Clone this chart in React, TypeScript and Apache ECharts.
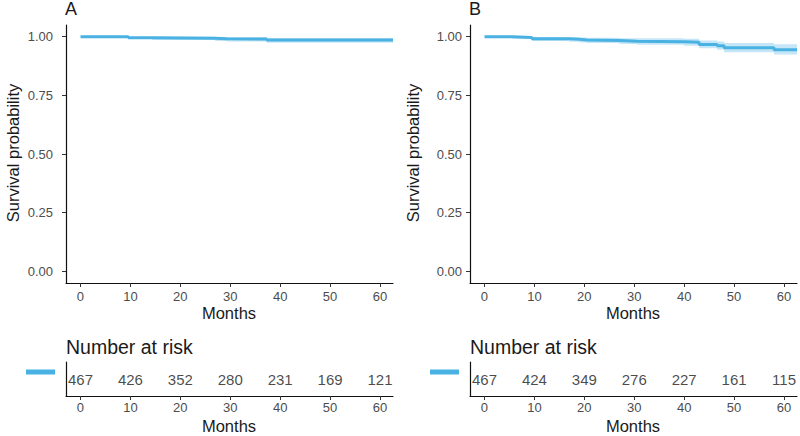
import React, { useEffect, useRef } from "react";
import * as echarts from "echarts";

// Panel A Kaplan-Meier estimate (months, survival, 95% CI)
const timesA = [0, 9.6, 14.4, 27, 29.3, 37.3, 62.6];
const survA = [1, 0.996, 0.994, 0.991, 0.99, 0.986, 0.986];
const lowerA = [1, 0.99, 0.986, 0.982, 0.98, 0.974, 0.974];
const upperA = [1, 1, 1, 0.999, 0.998, 0.995, 0.995];

// Panel B Kaplan-Meier estimate
const timesB = [0, 5.6, 9.5, 17, 19, 20.5, 27, 30.5, 40, 43, 46.6, 48, 58, 62.6];
const survB = [1, 0.997, 0.991, 0.989, 0.986, 0.984, 0.981, 0.979, 0.976, 0.967, 0.962, 0.953, 0.945, 0.945];
const lowerB = [1, 0.991, 0.982, 0.979, 0.975, 0.973, 0.969, 0.966, 0.962, 0.951, 0.945, 0.934, 0.924, 0.924];
const upperB = [1, 1, 0.999, 0.998, 0.997, 0.996, 0.994, 0.993, 0.991, 0.984, 0.98, 0.973, 0.968, 0.968];

// Number at risk
const riskTimes = [0, 10, 20, 30, 40, 50, 60];
const riskA = [467, 426, 352, 280, 231, 169, 121];
const riskB = [467, 424, 349, 276, 227, 161, 115];

const xTicks = [0, 10, 20, 30, 40, 50, 60];
const yTicks = [0, 0.25, 0.5, 0.75, 1];

const FONT = "'Liberation Sans', Arial, sans-serif";
const BLUE = "#4AB2E2";
const XMIN = -2.9;
const XMAX = 62.6;

export default function App() {
  const ref = useRef<HTMLDivElement>(null);

  useEffect(() => {
    if (!ref.current) return;
    const chart = echarts.init(ref.current, null, { renderer: "svg" });

    const grids = [
      { left: 66, top: 25, width: 327, height: 258 },
      { left: 470, top: 25, width: 327, height: 258 },
      { left: 66, top: 362, width: 327, height: 34 },
      { left: 470, top: 362, width: 327, height: 34 },
    ];

    const xAxisBase = (gi: number, labelMargin: number) => ({
      type: "value",
      gridIndex: gi,
      min: XMIN,
      max: XMAX,
      splitLine: { show: false },
      axisLine: { show: true, onZero: false, lineStyle: { color: "#111", width: 1.2 } },
      axisTick: { show: true, length: 4, customValues: xTicks, lineStyle: { color: "#333" } },
      axisLabel: {
        customValues: xTicks,
        margin: labelMargin,
        fontSize: 13,
        color: "#4D4D4D",
        fontFamily: FONT,
      },
    });

    const yMain = (gi: number, margin: number) => ({
      type: "value",
      gridIndex: gi,
      min: -0.05,
      max: 1.05,
      splitLine: { show: false },
      axisLine: { show: true, onZero: false, lineStyle: { color: "#111", width: 1.2 } },
      axisTick: { show: true, length: 4, customValues: yTicks, lineStyle: { color: "#333" } },
      axisLabel: {
        customValues: yTicks,
        margin,
        fontSize: 13,
        color: "#4D4D4D",
        fontFamily: FONT,
        formatter: (v: number) => v.toFixed(2),
      },
    });

    const yRisk = (gi: number) => ({
      type: "value",
      gridIndex: gi,
      min: 0,
      max: 1,
      splitLine: { show: false },
      axisLine: { show: true, onZero: false, lineStyle: { color: "#111", width: 1.2 } },
      axisTick: { show: false },
      axisLabel: { show: false },
    });

    const kmSeries = (
      idx: number,
      times: number[],
      surv: number[],
      lower: number[],
      upper: number[]
    ) => [
      {
        type: "custom",
        xAxisIndex: idx,
        yAxisIndex: idx,
        silent: true,
        clip: true,
        data: times.map((t, i) => [t, lower[i], upper[i]]),
        encode: { x: 0, y: [1, 2] },
        renderItem: (params: any, api: any) => {
          if (params.dataIndex !== 0) return null;
          const top: number[][] = [];
          const bottom: number[][] = [];
          for (let i = 0; i < times.length; i++) {
            const tNext = i < times.length - 1 ? times[i + 1] : times[i];
            top.push(api.coord([times[i], upper[i]]));
            top.push(api.coord([tNext, upper[i]]));
            bottom.push(api.coord([times[i], lower[i]]));
            bottom.push(api.coord([tNext, lower[i]]));
          }
          const points = top.concat(bottom.reverse());
          return {
            type: "polygon",
            shape: { points },
            style: { fill: BLUE, opacity: 0.32 },
          };
        },
      },
      {
        type: "line",
        xAxisIndex: idx,
        yAxisIndex: idx,
        step: "end",
        symbol: "none",
        lineStyle: { color: BLUE, width: 3 },
        data: times.map((t, i) => [t, surv[i]]),
        silent: true,
      },
    ];

    const riskSeries = (idx: number, counts: number[]) => ({
      type: "scatter",
      xAxisIndex: idx,
      yAxisIndex: idx,
      symbolSize: 0,
      data: riskTimes.map((t, i) => [t, 0.5, counts[i]]),
      label: {
        show: true,
        position: "inside",
        formatter: (p: any) => String(p.value[2]),
        fontSize: 15,
        color: "#1a1a1a",
        fontFamily: FONT,
      },
      silent: true,
    });

    const txt = (
      x: number,
      y: number,
      text: string,
      fontSize: number,
      align = "center",
      rotation = 0
    ) => ({
      type: "text",
      x,
      y,
      rotation,
      style: {
        text,
        fontSize,
        fontFamily: FONT,
        fill: "#1a1a1a",
        align,
        verticalAlign: "middle",
      },
    });

    chart.setOption({
      animation: false,
      backgroundColor: "#ffffff",
      grid: grids,
      xAxis: [xAxisBase(0, 7), xAxisBase(1, 7), xAxisBase(2, 5), xAxisBase(3, 5)],
      yAxis: [yMain(0, 13), yMain(1, 8), yRisk(2), yRisk(3)],
      series: [
        ...kmSeries(0, timesA, survA, lowerA, upperA),
        ...kmSeries(1, timesB, survB, lowerB, upperB),
        riskSeries(2, riskA),
        riskSeries(3, riskB),
      ],
      graphic: [
        txt(65, 9, "A", 18, "left"),
        txt(469, 9, "B", 18, "left"),
        txt(12.5, 153, "Survival probability", 16.5, "center", Math.PI / 2),
        txt(413, 153, "Survival probability", 16.5, "center", Math.PI / 2),
        txt(229, 313, "Months", 16.5),
        txt(633, 313, "Months", 16.5),
        txt(66, 347, "Number at risk", 19.5, "left"),
        txt(470, 347, "Number at risk", 19.5, "left"),
        txt(229, 426, "Months", 16.5),
        txt(633, 426, "Months", 16.5),
        { type: "rect", shape: { x: 26, y: 369.5, width: 29, height: 5 }, style: { fill: BLUE } },
        { type: "rect", shape: { x: 430, y: 369.5, width: 29, height: 5 }, style: { fill: BLUE } },
      ],
    });

    return () => chart.dispose();
  }, []);

  return <div ref={ref} style={{ width: 800, height: 436, position: "absolute", left: 0, top: 0 }} />;
}
